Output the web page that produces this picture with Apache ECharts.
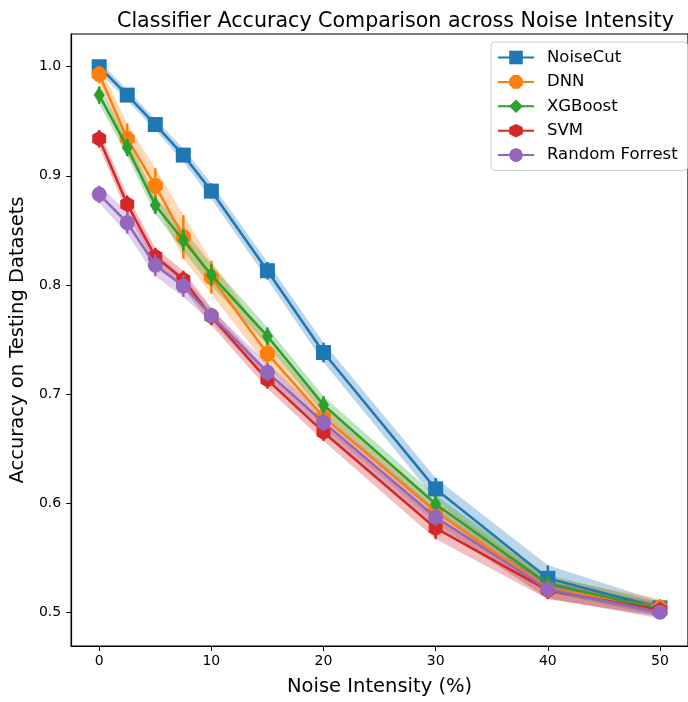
<!DOCTYPE html>
<html>
<head>
<meta charset="utf-8">
<script src="https://cdn.jsdelivr.net/npm/echarts@6/dist/echarts.min.js"></script>
<style>html,body{margin:0;padding:0;background:#fff}#c{width:688px;height:702px}</style>
</head>
<body>
<div id="c"></div>
<script>
const noise = [0, 2.5, 5, 7.5, 10, 15, 20, 30, 40, 50];
const xTicks = [0, 10, 20, 30, 40, 50];
const yTicks = [0.5, 0.6, 0.7, 0.8, 0.9, 1.0];

const noiseCutMean = [1.000, 0.974, 0.947, 0.919, 0.886, 0.813, 0.738, 0.613, 0.531, 0.504];
const noiseCutStd  = [0.005, 0.005, 0.005, 0.006, 0.007, 0.008, 0.009, 0.010, 0.012, 0.006];
const dnnMean = [0.993, 0.934, 0.891, 0.844, 0.807, 0.737, 0.679, 0.592, 0.522, 0.504];
const dnnStd  = [0.008, 0.014, 0.016, 0.020, 0.015, 0.012, 0.010, 0.010, 0.010, 0.008];
const xgbMean = [0.974, 0.926, 0.873, 0.841, 0.809, 0.753, 0.690, 0.599, 0.526, 0.503];
const xgbStd  = [0.008, 0.008, 0.008, 0.010, 0.010, 0.008, 0.008, 0.008, 0.008, 0.006];
const svmMean = [0.934, 0.874, 0.826, 0.805, 0.771, 0.713, 0.665, 0.577, 0.520, 0.502];
const svmStd  = [0.008, 0.008, 0.008, 0.008, 0.008, 0.008, 0.008, 0.010, 0.008, 0.006];
const rfMean = [0.883, 0.857, 0.818, 0.799, 0.772, 0.720, 0.674, 0.587, 0.521, 0.500];
const rfStd  = [0.008, 0.010, 0.010, 0.010, 0.006, 0.008, 0.008, 0.008, 0.008, 0.006];

const names = ['NoiseCut', 'DNN', 'XGBoost', 'SVM', 'Random Forrest'];
const colors = ['#1f77b4', '#ff7f0e', '#2ca02c', '#d62728', '#9467bd'];
const means = [noiseCutMean, dnnMean, xgbMean, svmMean, rfMean];
const stds = [noiseCutStd, dnnStd, xgbStd, svmStd, rfStd];
const symbols = [
  'rect',
  'path://M-0.414,-1 L0.414,-1 L1,-0.414 L1,0.414 L0.414,1 L-0.414,1 L-1,0.414 L-1,-0.414Z',
  'diamond',
  'path://M0,-1 L0.866,-0.5 L0.866,0.5 L0,1 L-0.866,0.5 L-0.866,-0.5Z',
  'circle'
];
const symbolSizes = [15, 15, [11, 17], [14, 16], 15];

const series = [];
names.forEach((name, i) => {
  const m = means[i], s = stds[i];
  const rows = noise.map((x, k) => [x, m[k], s[k]]);
  series.push({
    type: 'custom',
    name: name + '_band',
    z: 1,
    silent: true,
    data: rows.slice(0, rows.length - 1).map((r, k) => [r[0], r[1], r[2], rows[k + 1][0], rows[k + 1][1], rows[k + 1][2]]),
    renderItem: function (params, api) {
      const x0 = api.value(0), y0 = api.value(1), e0 = api.value(2);
      const x1 = api.value(3), y1 = api.value(4), e1 = api.value(5);
      const pts = [
        api.coord([x0, y0 + e0]), api.coord([x1, y1 + e1]),
        api.coord([x1, y1 - e1]), api.coord([x0, y0 - e0])
      ];
      return { type: 'polygon', shape: { points: pts }, style: { fill: colors[i], opacity: 0.3 } };
    },
    encode: { x: [0, 3], y: [1, 4] }
  });
  series.push({
    type: 'custom',
    name: name + '_err',
    z: 2 + i * 2,
    silent: true,
    data: rows,
    renderItem: function (params, api) {
      const a = api.coord([api.value(0), api.value(1) + api.value(2)]);
      const b = api.coord([api.value(0), api.value(1) - api.value(2)]);
      return { type: 'line', shape: { x1: a[0], y1: a[1], x2: b[0], y2: b[1] }, style: { stroke: colors[i], lineWidth: 2.5 } };
    },
    encode: { x: 0, y: 1 }
  });
  series.push({
    type: 'line',
    name: name,
    z: 3 + i * 2,
    data: noise.map((x, k) => [x, m[k]]),
    symbol: symbols[i],
    symbolSize: symbolSizes[i],
    showAllSymbol: true,
    lineStyle: { color: colors[i], width: 2.5 },
    itemStyle: { color: colors[i] }
  });
});

const chart = echarts.init(document.getElementById('c'), null, { renderer: 'canvas' });
chart.setOption({
  animation: false,
  backgroundColor: '#fff',
  title: {
    text: 'Classifier Accuracy Comparison across Noise Intensity',
    left: 112, top: 6,
    textStyle: { fontFamily: 'DejaVu Sans', fontSize: 20.6, fontWeight: 'normal', color: '#000' }
  },
  legend: {
    data: names,
    orient: 'vertical',
    left: 491, top: 42,
    padding: [7, 10, 7, 6],
    itemWidth: 36, itemHeight: 17, itemGap: 7.4,
    backgroundColor: 'rgba(255,255,255,0.8)',
    borderColor: '#cccccc', borderWidth: 1, borderRadius: 4,
    textStyle: { fontFamily: 'DejaVu Sans', fontSize: 16.5, lineHeight: 17, color: '#000', padding: [0, 0, 0, 8] }
  },
  grid: { left: 71, top: 34, width: 622, height: 616, containLabel: false,
    show: true, borderColor: '#000', borderWidth: 1.2, backgroundColor: 'transparent' },
  xAxis: {
    type: 'value', min: -2.5, max: 52.5,
    name: 'Noise Intensity (%)', nameLocation: 'middle', nameGap: 31,
    nameTextStyle: { fontFamily: 'DejaVu Sans', fontSize: 19.5, color: '#000' },
    axisLine: { show: true, onZero: false, lineStyle: { color: '#000', width: 1.2 } },
    axisTick: { show: true, length: 5, inside: false, customValues: xTicks, lineStyle: { color: '#000' } },
    axisLabel: { customValues: xTicks, fontFamily: 'DejaVu Sans', fontSize: 14, color: '#000', margin: 8 },
    splitLine: { show: false }
  },
  yAxis: {
    type: 'value', min: 0.469, max: 1.030,
    name: 'Accuracy on Testing Datasets', nameLocation: 'middle', nameGap: 33, nameRotate: 90,
    nameTextStyle: { fontFamily: 'DejaVu Sans', fontSize: 19.5, color: '#000' },
    axisLine: { show: true, onZero: false, lineStyle: { color: '#000', width: 1.2 } },
    axisTick: { show: true, length: 5, customValues: yTicks, lineStyle: { color: '#000' } },
    axisLabel: { customValues: yTicks, fontFamily: 'DejaVu Sans', fontSize: 14, color: '#000', margin: 10,
      formatter: v => v.toFixed(1) },
    splitLine: { show: false }
  },
  series: series
});
</script>
</body>
</html>
